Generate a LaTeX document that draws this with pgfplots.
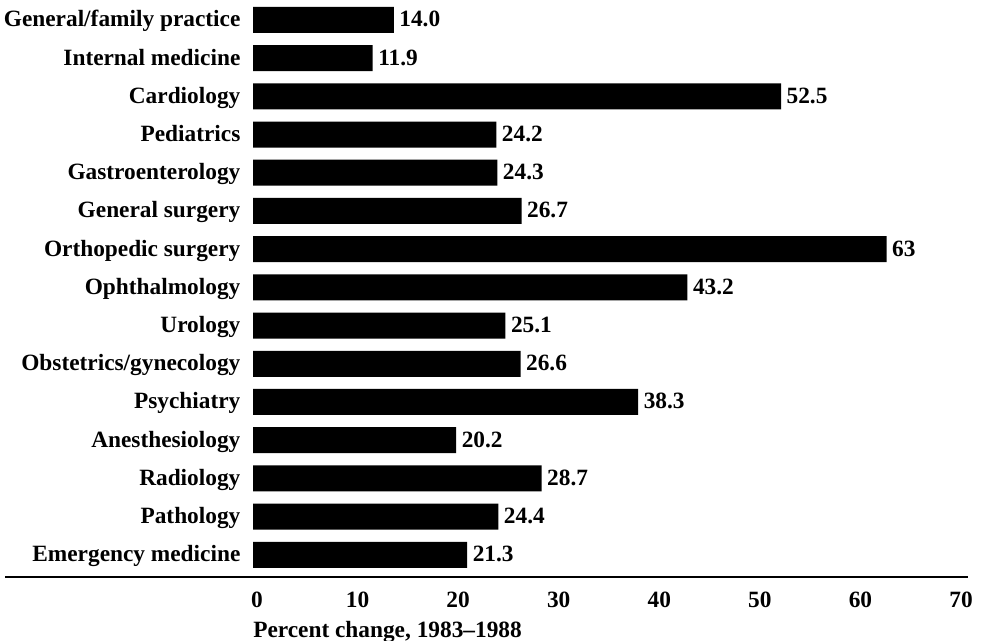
\documentclass[border=0pt]{standalone}
\usepackage{pgfplots}
\pgfplotsset{compat=1.18}
\usepackage{pgfplotstable}
\usepackage{fontspec}
\setmainfont{Liberation Serif}
\pgfplotstableread{
y x lab
0 21.3 21.3
1 24.4 24.4
2 28.7 28.7
3 20.2 20.2
4 38.3 38.3
5 26.6 26.6
6 25.1 25.1
7 43.2 43.2
8 63.0 63
9 26.7 26.7
10 24.3 24.3
11 24.2 24.2
12 52.5 52.5
13 11.9 11.9
14 14.0 14.0
}\data
\newcommand{\lf}{\fontsize{17.5}{20}\selectfont\bfseries}
\begin{document}
\begin{tikzpicture}
\useasboundingbox (0,0) rectangle (740.25pt,480pt);
\begin{axis}[
  at={(189.75pt,47.25pt)}, anchor=south west,
  scale only axis, width=528pt, height=432.75pt,
  xmin=0, xmax=70, ymin=-0.58, ymax=14.52,
  xbar, bar width=19.5pt,
  axis line style={draw=none},
  major tick style={draw=none},
  xtick={0,10,...,70},
  ytick={0,...,14},
  yticklabels={Emergency medicine,Pathology,Radiology,Anesthesiology,Psychiatry,Obstetrics/gynecology,Urology,Ophthalmology,Orthopedic surgery,General surgery,Gastroenterology,Pediatrics,Cardiology,Internal medicine,General/family practice},
  clip=false,
  /pgf/number format/assume math mode=true,
  tick label style={font=\lf},
  yticklabel style={anchor=east, inner sep=0pt, xshift=-5pt, yshift=-3pt, text height=0.7em, text depth=0.25em},
  xticklabel style={anchor=base, inner sep=0pt, yshift=-22.5pt, xshift=3pt},
  nodes near coords={\pgfplotspointmeta},
  point meta=explicit symbolic,
  nodes near coords style={anchor=west, inner sep=0pt, xshift=4pt, yshift=-3pt, font=\lf, text height=0.7em, text depth=0.25em},
]
\addplot[fill=black, draw=none] table[x=x, y=y, meta=lab] {\data};
\draw[line width=1.5pt] (axis cs:-24.65,-0.58) -- (axis cs:71.1,-0.58);
\node[anchor=base west, inner sep=0pt, font=\lf] at ([yshift=-45pt]axis cs:0,-0.58) {Percent change, 1983--1988};
\end{axis}
\end{tikzpicture}
\end{document}
